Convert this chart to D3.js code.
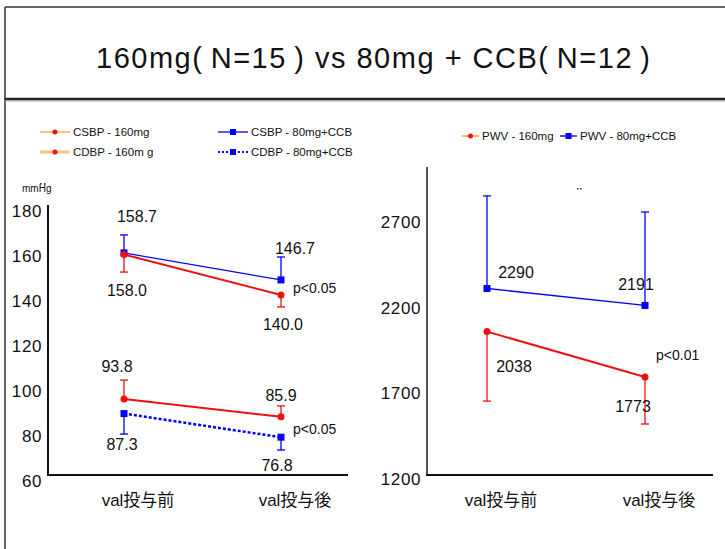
<!DOCTYPE html>
<html>
<head>
<meta charset="utf-8">
<script src="https://cdn.jsdelivr.net/npm/d3@7"></script>
<style>
  body { margin: 0; background: #fff; }
  svg { display: block; font-family: "Liberation Sans", Arial, "Noto Sans CJK JP", sans-serif; }
</style>
</head>
<body>
<svg id="chart" width="725" height="549"></svg>
<script>
// ---- data ----
const categories = ['val投与前', 'val投与後']

const csbp160 = [158.0, 140.0]
const csbp160Sd = [7.8, 5.3]
const csbp80 = [158.7, 146.7]
const csbp80Sd = [8.0, 10.2]
const cdbp160 = [93.8, 85.9]
const cdbp160Sd = [8.4, 4.8]
const cdbp80 = [87.3, 76.8]
const cdbp80Sd = [9.1, 5.7]

const pwv160 = [2038, 1773]
const pwv160Sd = [406, 275]
const pwv80 = [2290, 2191]
const pwv80Sd = [541, 546]

const bpTicks = [60, 80, 100, 120, 140, 160, 180]
const pwvTicks = [1200, 1700, 2200, 2700]

const RED = '#ee1111'
const BLUE = '#0000ff'

const svg = d3.select('#chart')

// ---- frame + title ----
svg.append('line').attr('x1', 5).attr('x2', 725).attr('y1', 7).attr('y2', 7)
  .attr('stroke', '#333').attr('stroke-width', 1.5)
svg.append('line').attr('x1', 5).attr('x2', 5).attr('y1', 7).attr('y2', 549)
  .attr('stroke', '#333').attr('stroke-width', 1.5)
svg.append('line').attr('x1', 5).attr('x2', 725).attr('y1', 99).attr('y2', 99)
  .attr('stroke', '#222').attr('stroke-width', 2.5)
svg.append('line').attr('x1', 5).attr('x2', 725).attr('y1', 101).attr('y2', 101)
  .attr('stroke', '#999').attr('stroke-width', 1)

svg.append('text')
  .attr('x', 96).attr('y', 68)
  .attr('font-size', 29)
  .attr('textLength', 554)
  .attr('lengthAdjust', 'spacing')
  .attr('fill', '#111')
  .text('160mg(\u2009N=15\u2009)  vs  80mg + CCB(\u2009N=12\u2009)')

// ---- helpers ----
function drawSeries(g, x, y, s) {
  const pts = s.values.map((v, i) => ({ cat: categories[i], v, sd: s.sd[i], lab: s.labels[i] }))

  // error bars (one-sided)
  pts.forEach((d) => {
    const end = d.v + s.dir * d.sd
    g.append('line')
      .attr('x1', x(d.cat)).attr('x2', x(d.cat))
      .attr('y1', y(d.v)).attr('y2', y(end))
      .attr('stroke', s.color).attr('stroke-width', 1.3)
    g.append('line')
      .attr('x1', x(d.cat) - 4).attr('x2', x(d.cat) + 4)
      .attr('y1', y(end)).attr('y2', y(end))
      .attr('stroke', s.color).attr('stroke-width', 1.3)
  })

  const line = d3.line().x((d) => x(d.cat)).y((d) => y(d.v))
  g.append('path')
    .datum(pts)
    .attr('fill', 'none')
    .attr('stroke', s.color)
    .attr('stroke-width', s.width)
    .attr('stroke-dasharray', s.dash || null)
    .attr('d', line)

  pts.forEach((d) => {
    if (s.marker === 'square') {
      g.append('rect')
        .attr('x', x(d.cat) - 3.5).attr('y', y(d.v) - 3.5)
        .attr('width', 7).attr('height', 7)
        .attr('fill', s.color)
    } else {
      g.append('circle')
        .attr('cx', x(d.cat)).attr('cy', y(d.v)).attr('r', 3.5)
        .attr('fill', s.color)
    }
    g.append('text')
      .attr('x', x(d.cat) + d.lab[0])
      .attr('y', y(d.v) + d.lab[1])
      .attr('dy', '0.35em')
      .attr('text-anchor', 'middle')
      .attr('font-size', 16)
      .attr('fill', '#111')
      .text(s.fmt(d.v))
  })
}

function drawAxes(g, x, y, ticks, x0, x1, yAxisColor, tickShift) {
  const [yb, yt] = y.range()
  g.append('line').attr('x1', x0).attr('x2', x0).attr('y1', yt).attr('y2', yb)
    .attr('stroke', yAxisColor).attr('stroke-width', 2)
  g.append('line').attr('x1', x0 - 1).attr('x2', x1).attr('y1', yb).attr('y2', yb)
    .attr('stroke', '#111').attr('stroke-width', 2)

  g.selectAll('.tick').data(ticks).enter().append('text')
    .attr('x', x0 - 6)
    .attr('y', (d) => y(d) + tickShift)
    .attr('dy', '0.35em')
    .attr('text-anchor', 'end')
    .attr('font-size', 17)
    .attr('letter-spacing', 0.6)
    .attr('fill', '#111')
    .text((d) => d)

  g.selectAll('.cat').data(categories).enter().append('text')
    .attr('x', (d) => x(d) + 14)
    .attr('y', yb + 25)
    .attr('dy', '0.35em')
    .attr('text-anchor', 'middle')
    .attr('font-size', 17)
    .attr('fill', '#111')
    .text((d) => d)
}

// ---- left chart: blood pressure ----
const xL = d3.scalePoint().domain(categories).range([124, 281])
const yL = d3.scaleLinear().domain([60, 180]).range([475, 205])
const gL = svg.append('g')

drawAxes(gL, xL, yL, bpTicks, 48, 348, '#111', 6)

gL.append('text').attr('x', 22).attr('y', 192).attr('font-size', 10).attr('fill', '#111').text('mmHg')

const fmt1 = d3.format('.1f')
drawSeries(gL, xL, yL, { values: csbp80, sd: csbp80Sd, dir: 1, color: BLUE, width: 1.2, marker: 'square', fmt: fmt1, labels: [[13, -37], [14, -32]] })
drawSeries(gL, xL, yL, { values: csbp160, sd: csbp160Sd, dir: -1, color: RED, width: 2, marker: 'circle', fmt: fmt1, labels: [[3, 36], [2, 29]] })
drawSeries(gL, xL, yL, { values: cdbp80, sd: cdbp80Sd, dir: -1, color: BLUE, width: 2.5, dash: '3,2', marker: 'square', fmt: fmt1, labels: [[-2, 31], [-4, 28]] })
drawSeries(gL, xL, yL, { values: cdbp160, sd: cdbp160Sd, dir: 1, color: RED, width: 2, marker: 'circle', fmt: fmt1, labels: [[-7, -33], [0, -21]] })

gL.append('text').attr('x', xL(categories[1]) + 12).attr('y', yL(143)).attr('dy', '0.35em')
  .attr('font-size', 14).attr('fill', '#111').text('p<0.05')
gL.append('text').attr('x', xL(categories[1]) + 12).attr('y', yL(80.5)).attr('dy', '0.35em')
  .attr('font-size', 14).attr('fill', '#111').text('p<0.05')

// legends
function drawLegend(items, len, gap) {
  items.forEach((d) => {
    svg.append('line').attr('x1', d.x).attr('x2', d.x + len).attr('y1', d.y).attr('y2', d.y)
      .attr('stroke', d.line).attr('stroke-width', d.lw).attr('stroke-dasharray', d.dash || null)
    if (d.marker === 'square') {
      svg.append('rect').attr('x', d.x + len / 2 - 3).attr('y', d.y - 3).attr('width', 6).attr('height', 6).attr('fill', d.mc)
    } else {
      svg.append('circle').attr('cx', d.x + len / 2).attr('cy', d.y).attr('r', 2.5).attr('fill', d.mc)
    }
    svg.append('text').attr('x', d.x + len + gap).attr('y', d.y).attr('dy', '0.35em')
      .attr('font-size', 11.5).attr('fill', '#111').text(d.name)
  })
}
const legL = [
  { name: 'CSBP - 160mg', x: 40, y: 132, line: '#f0a030', lw: 1.3, marker: 'circle', mc: RED },
  { name: 'CSBP - 80mg+CCB', x: 218, y: 132, line: BLUE, lw: 1.3, marker: 'square', mc: BLUE },
  { name: 'CDBP - 160m g', x: 40, y: 152, line: '#ffc070', lw: 3, marker: 'circle', mc: RED },
  { name: 'CDBP - 80mg+CCB', x: 218, y: 152, line: BLUE, lw: 2.2, dash: '2,2', marker: 'square', mc: BLUE },
]
drawLegend(legL, 30, 3)

// ---- right chart: PWV ----
const xR = d3.scalePoint().domain(categories).range([487, 645])
const yR = d3.scaleLinear().domain([1200, 3000]).range([475, 167])
const gR = svg.append('g')

drawAxes(gR, xR, yR, pwvTicks, 427, 713, '#555', 4)

const fmt0 = d3.format('d')
drawSeries(gR, xR, yR, { values: pwv80, sd: pwv80Sd, dir: 1, color: BLUE, width: 1.3, marker: 'square', fmt: fmt0, labels: [[29, -16], [-9, -21]] })
drawSeries(gR, xR, yR, { values: pwv160, sd: pwv160Sd, dir: -1, color: RED, width: 2, marker: 'circle', fmt: fmt0, labels: [[27, 35], [-12, 29]] })

gR.append('text').attr('x', xR(categories[1]) + 11).attr('y', yR(1900)).attr('dy', '0.35em')
  .attr('font-size', 14).attr('fill', '#111').text('p<0.01')

const legR = [
  { name: 'PWV - 160mg', x: 462, y: 136, line: '#ffb060', lw: 2, marker: 'circle', mc: RED },
  { name: 'PWV - 80mg+CCB', x: 560, y: 136, line: '#5050ff', lw: 2, marker: 'square', mc: BLUE },
]
drawLegend(legR, 17, 3)

// small stray marks from the original slide
;[[40, 183], [44, 183], [577, 188], [580, 188]].forEach(([cx, cy]) => {
  svg.append('rect').attr('x', cx).attr('y', cy).attr('width', 1.5).attr('height', 1.5).attr('fill', '#333')
})
</script>
</body>
</html>
